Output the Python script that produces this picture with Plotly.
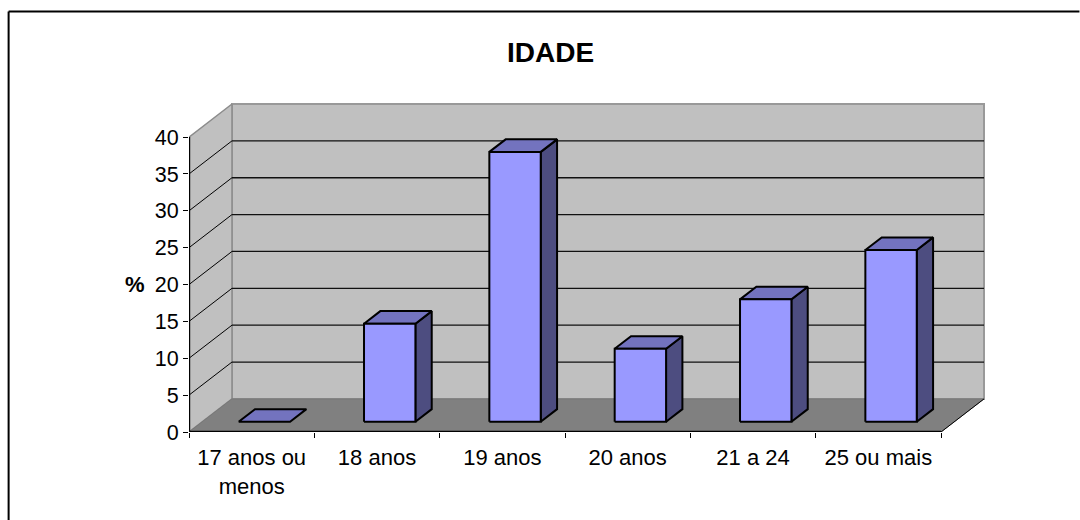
import plotly.graph_objects as go

categories = ["17 anos ou<br>menos", "18 anos", "19 anos", "20 anos", "21 a 24", "25 ou mais"]
values = [0, 13.3, 36.6, 9.9, 16.6, 23.3]
y_ticks = [0, 5, 10, 15, 20, 25, 30, 35, 40]
title_text = "IDADE"
y_title = "%"

# oblique projection: a point at depth d (0 front, 1 back) moves right and up
PX_PER_CAT = 125.4
PX_PER_UNIT = 7.35
DX = 43 / PX_PER_CAT
DY = 33 / PX_PER_UNIT
BAR_X0, BAR_X1 = 0.29, 0.70
DEPTH0, DEPTH1 = 0.31, 0.69
N = len(categories)
YMAX = y_ticks[-1]
PAD = 3  # px of room above and right of the walls so their borders are not clipped

WALL = "#C0C0C0"
FLOOR = "#808080"
FRONT = "#9999FF"
TOP = "#7373BF"
SIDE = "#4D4D80"
L, T = 189, 101
W, H = 984.5 + PAD - L, 432 - T


def px_x(p):
    return (p - L) / W


def px_y(p):
    return (432 - p) / H


def proj(x, y, d):
    return x + d * DX, y + d * DY


def poly(points, fill, line_color=None, line_width=0):
    xs, ys = zip(*[proj(*p) for p in points + points[:1]])
    return go.Scatter(
        x=xs, y=ys, mode="lines", fill="toself" if fill else None, fillcolor=fill,
        line=dict(color=line_color or "rgba(0,0,0,0)", width=line_width),
        hoverinfo="skip", showlegend=False, cliponaxis=False,
    )


def seg(a, b, color, width):
    xs, ys = zip(proj(*a), proj(*b))
    return go.Scatter(x=xs, y=ys, mode="lines", line=dict(color=color, width=width),
                      hoverinfo="skip", showlegend=False, cliponaxis=False)


fig = go.Figure()
# walls and floor
fig.add_trace(poly([(0, 0, 1), (N, 0, 1), (N, YMAX, 1), (0, YMAX, 1)], WALL, "#999999", 2))
fig.add_trace(poly([(0, 0, 0), (0, 0, 1), (0, YMAX, 1), (0, YMAX, 0)], WALL, "#8c8c8c", 1.5))
fig.add_trace(poly([(0, 0, 0), (N, 0, 0), (N, 0, 1), (0, 0, 1)], FLOOR, "#777777", 1))
fig.add_trace(seg((N, 0, 0), (N, 0, 1), "#000000", 1))
# gridlines
for t in y_ticks[1:-1]:
    fig.add_trace(seg((0, t, 0), (0, t, 1), "#000000", 1))
    fig.add_trace(seg((0, t, 1), (N, t, 1), "#111111", 1.3))
# bars
for i, v in enumerate(values):
    a, b = i + BAR_X0, i + BAR_X1
    if v > 0:
        fig.add_trace(poly([(b, 0, DEPTH0), (b, 0, DEPTH1), (b, v, DEPTH1), (b, v, DEPTH0)], SIDE, "#000000", 2))
    fig.add_trace(poly([(a, v, DEPTH0), (b, v, DEPTH0), (b, v, DEPTH1), (a, v, DEPTH1)], TOP, "#000000", 2))
    if v > 0:
        fig.add_trace(poly([(a, 0, DEPTH0), (b, 0, DEPTH0), (b, v, DEPTH0), (a, v, DEPTH0)], FRONT, "#000000", 2))
# axis lines (half of their width falls outside the plot clip)
fig.add_trace(seg((0, 0, 0), (0, YMAX, 0), "#000000", 2.4))
fig.add_trace(seg((0, 0, 0), (N, 0, 0), "#000000", 2.4))

FONT = "Liberation Sans"
fig.update_layout(
    width=1080, height=520, autosize=False,
    margin=dict(l=L, r=1080 - L - W, t=T, b=88, pad=0),
    paper_bgcolor="white", plot_bgcolor="white", showlegend=False,
    font=dict(family=FONT, size=21, color="#000000"),
    xaxis=dict(
        range=[0, N + DX + PAD / PX_PER_CAT], showgrid=False, zeroline=False, showline=False,
        tickvals=[i + 0.5 for i in range(N)], ticktext=categories, ticks="", ticklen=0,
        tickangle=0, tickfont=dict(size=22), ticklabelstandoff=10,
        minor=dict(tickvals=list(range(N + 1)), ticks="outside", ticklen=5, tickcolor="#000000", tickwidth=1, showgrid=False),
    ),
    yaxis=dict(
        range=[0, YMAX + DY + PAD / PX_PER_UNIT], showgrid=False, zeroline=False, showline=False,
        tickvals=y_ticks, ticks="outside", ticklen=5, tickcolor="#000000", tickwidth=1,
        tickfont=dict(size=21.5),
    ),
    annotations=[
        dict(text="<b>%s</b>" % title_text, xref="paper", yref="paper", x=px_x(550.5), y=px_y(52),
             xanchor="center", yanchor="middle", showarrow=False, font=dict(size=28, family=FONT)),
        dict(text="<b>%s</b>" % y_title, xref="paper", yref="paper", x=px_x(135), y=px_y(284),
             xanchor="center", yanchor="middle", showarrow=False, font=dict(size=22, family=FONT)),
    ],
    shapes=[
        dict(type="line", xref="paper", yref="paper", x0=px_x(8.5), x1=px_x(8.5),
             y0=px_y(520), y1=px_y(11.5), line=dict(color="#000000", width=2)),
        dict(type="line", xref="paper", yref="paper", x0=px_x(8.5), x1=px_x(1080),
             y0=px_y(11.5), y1=px_y(11.5), line=dict(color="#000000", width=2)),
    ],
)
fig.write_html("out.html", post_script="document.body.style.margin='0';", config={"displayModeBar": False})
